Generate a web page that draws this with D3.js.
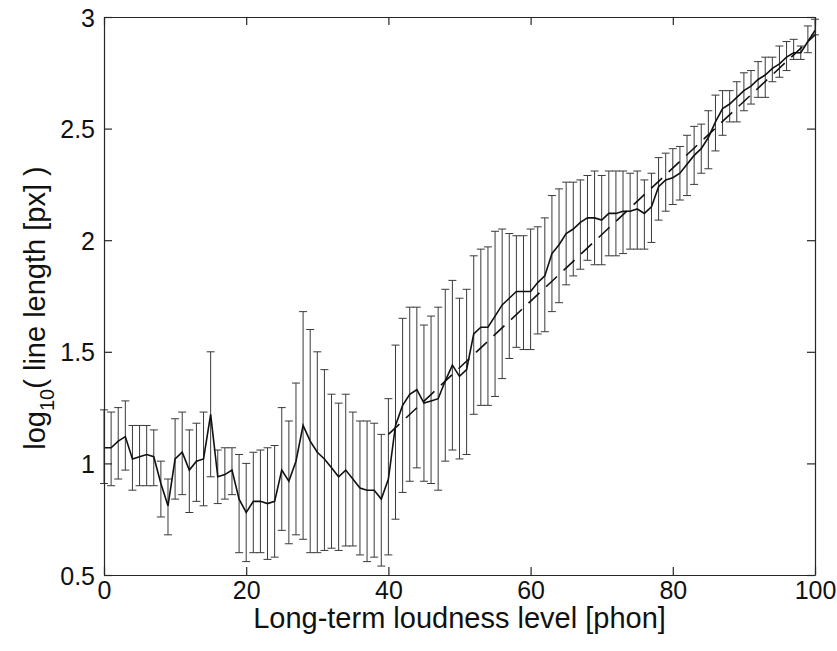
<!DOCTYPE html>
<html>
<head>
<meta charset="utf-8">
<script src="https://cdn.jsdelivr.net/npm/d3@7"></script>
<style>
body { margin: 0; background: #fff; }
text { font-family: "Liberation Sans", Arial, Helvetica, sans-serif; }
</style>
</head>
<body>
<script>
// loudness level (phon), one point per integer
var levels = d3.range(0, 101);

var meanVals = [1.07,1.07,1.10,1.12,1.02,1.03,1.04,1.03,0.91,0.81,
	1.02,1.05,0.97,1.01,1.02,1.22,0.94,0.95,0.97,0.84,
	0.78,0.83,0.83,0.82,0.83,0.97,0.92,1.01,1.17,1.10,
	1.05,1.02,0.98,0.94,0.97,0.93,0.89,0.88,0.88,0.84,
	0.93,1.17,1.26,1.31,1.33,1.27,1.28,1.29,1.37,1.44,
	1.39,1.42,1.58,1.61,1.61,1.66,1.71,1.74,1.77,1.77,
	1.77,1.81,1.84,1.94,1.98,2.03,2.05,2.08,2.10,2.10,
	2.09,2.12,2.12,2.13,2.13,2.14,2.12,2.15,2.24,2.27,
	2.28,2.30,2.34,2.38,2.41,2.46,2.53,2.59,2.61,2.64,
	2.67,2.69,2.72,2.74,2.77,2.79,2.82,2.84,2.84,2.89,
	2.94];

var lowVals = [0.91,0.90,0.93,0.97,0.88,0.90,0.90,0.90,0.76,0.68,
	0.84,0.86,0.78,0.83,0.81,0.94,0.82,0.84,0.86,0.60,
	0.56,0.60,0.60,0.57,0.58,0.70,0.64,0.68,0.66,0.60,
	0.60,0.61,0.62,0.61,0.63,0.63,0.59,0.56,0.58,0.54,
	0.59,0.75,0.87,0.92,0.98,0.92,0.91,0.88,1.01,1.06,
	1.02,1.04,1.22,1.26,1.26,1.30,1.38,1.47,1.52,1.51,
	1.51,1.58,1.59,1.68,1.72,1.80,1.84,1.87,1.91,1.89,
	1.89,1.93,1.93,1.94,1.96,1.96,1.96,1.99,2.09,2.13,
	2.16,2.18,2.20,2.25,2.30,2.32,2.40,2.47,2.53,2.53,
	2.58,2.61,2.64,2.64,2.71,2.73,2.76,2.81,2.81,2.84,
	2.92];

var highVals = [1.24,1.23,1.25,1.28,1.17,1.17,1.17,1.15,1.01,0.93,
	1.20,1.23,1.15,1.18,1.23,1.50,1.06,1.07,1.07,1.04,
	1.00,1.05,1.06,1.07,1.08,1.25,1.19,1.36,1.68,1.60,
	1.50,1.42,1.31,1.27,1.31,1.23,1.19,1.19,1.18,1.13,
	1.29,1.53,1.65,1.70,1.70,1.62,1.66,1.70,1.78,1.82,
	1.74,1.78,1.93,1.96,1.97,2.04,2.05,2.03,2.02,2.02,
	2.05,2.06,2.10,2.20,2.23,2.26,2.26,2.27,2.29,2.31,
	2.29,2.31,2.31,2.31,2.30,2.31,2.27,2.30,2.37,2.39,
	2.41,2.42,2.47,2.51,2.52,2.58,2.65,2.67,2.67,2.71,
	2.75,2.76,2.80,2.82,2.82,2.87,2.89,2.90,2.87,2.96,
	2.99];

// dashed linear fit, end points
var fitX = [40, 100];
var fitY = [1.13, 2.92];

var xTicks = [0, 20, 40, 60, 80, 100];
var yTicks = [0.5, 1, 1.5, 2, 2.5, 3];

function main(){

	var w = 837;
	var h = 651;
	var padLeft = 104, padRight = 815, padTop = 17, padBottom = 575;
	var axisColor = "#262626";

	var dataset = levels.map(function(d, i){
		return {x: d, m: meanVals[i], lo: lowVals[i], hi: highVals[i]};
	});

	var svg = d3.select("body")
				.append("svg")
				.attr("width", w)
				.attr("height", h);

	var xScale = d3.scaleLinear()
					.domain([0, 100])
					.range([padLeft, padRight]);

	var yScale = d3.scaleLinear()
					.domain([0.5, 3])
					.range([padBottom, padTop]);

	// error bars
	var bars = svg.append("g")
				.attr("stroke", "#3a3a3a")
				.attr("stroke-width", 1)
				.attr("fill", "none");

	bars.selectAll(".vbar")
		.data(dataset)
		.enter()
		.append("line")
		.attr("class", "vbar")
		.attr("x1", function(d){return xScale(d.x);})
		.attr("x2", function(d){return xScale(d.x);})
		.attr("y1", function(d){return yScale(d.lo);})
		.attr("y2", function(d){return yScale(d.hi);});

	var cap = 4;
	bars.selectAll(".capTop")
		.data(dataset)
		.enter()
		.append("line")
		.attr("class", "capTop")
		.attr("x1", function(d){return xScale(d.x) - cap;})
		.attr("x2", function(d){return xScale(d.x) + cap;})
		.attr("y1", function(d){return yScale(d.hi);})
		.attr("y2", function(d){return yScale(d.hi);});

	bars.selectAll(".capBot")
		.data(dataset)
		.enter()
		.append("line")
		.attr("class", "capBot")
		.attr("x1", function(d){return xScale(d.x) - cap;})
		.attr("x2", function(d){return xScale(d.x) + cap;})
		.attr("y1", function(d){return yScale(d.lo);})
		.attr("y2", function(d){return yScale(d.lo);});

	// mean line
	var line = d3.line()
				.x(function(d){return xScale(d.x);})
				.y(function(d){return yScale(d.m);});

	svg.append("path")
		.datum(dataset)
		.attr("d", line)
		.attr("fill", "none")
		.attr("stroke", "#111")
		.attr("stroke-width", 1.6);

	// fit line
	svg.append("line")
		.attr("x1", xScale(fitX[0]))
		.attr("y1", yScale(fitY[0]))
		.attr("x2", xScale(fitX[1]))
		.attr("y2", yScale(fitY[1]))
		.attr("stroke", "#111")
		.attr("stroke-width", 1.6)
		.attr("stroke-dasharray", "15,9");

	// axes (box with inward ticks)
	var tickLen = 8;
	var fmt = function(d){return String(d);};

	var xAxis = d3.axisBottom(xScale).tickValues(xTicks).tickFormat(fmt).tickSizeInner(-tickLen).tickSizeOuter(0).tickPadding(6);
	var yAxis = d3.axisLeft(yScale).tickValues(yTicks).tickFormat(fmt).tickSizeInner(-tickLen).tickSizeOuter(0).tickPadding(9);
	var xAxisTop = d3.axisTop(xScale).tickValues(xTicks).tickSizeInner(-tickLen).tickSizeOuter(0).tickFormat("");
	var yAxisRight = d3.axisRight(yScale).tickValues(yTicks).tickSizeInner(-tickLen).tickSizeOuter(0).tickFormat("");

	var gx = svg.append("g")
		.attr("transform", "translate(0," + padBottom + ")")
		.call(xAxis);
	var gy = svg.append("g")
		.attr("transform", "translate(" + padLeft + ",0)")
		.call(yAxis);
	var gxt = svg.append("g")
		.attr("transform", "translate(0," + padTop + ")")
		.call(xAxisTop);
	var gyr = svg.append("g")
		.attr("transform", "translate(" + padRight + ",0)")
		.call(yAxisRight);

	[gx, gy, gxt, gyr].forEach(function(g){
		g.select(".domain").attr("stroke", axisColor).attr("stroke-width", 1.2);
		g.selectAll(".tick line").attr("stroke", axisColor).attr("stroke-width", 1.2);
		g.selectAll(".tick text")
			.attr("fill", "#111")
			.attr("font-size", 25)
			.attr("font-family", "'Liberation Sans', Arial, sans-serif");
	});

	gy.selectAll(".tick text").attr("dy", "0.36em");

	// axis titles
	svg.append("text")
		.attr("x", (padLeft + padRight) / 2)
		.attr("y", 628)
		.attr("text-anchor", "middle")
		.attr("font-size", 29)
		.attr("fill", "#111")
		.text("Long-term loudness level [phon]");

	var ylab = svg.append("text")
		.attr("text-anchor", "middle")
		.attr("font-size", 29)
		.attr("fill", "#111")
		.attr("transform", "translate(45," + ((padTop + padBottom) / 2 + 12) + ") rotate(-90)");
	ylab.append("tspan").text("log");
	ylab.append("tspan").attr("font-size", 20).attr("dy", 9).text("10");
	ylab.append("tspan").attr("dy", -9).text("( line length [px] )");
}

main();
</script>
</body>
</html>
